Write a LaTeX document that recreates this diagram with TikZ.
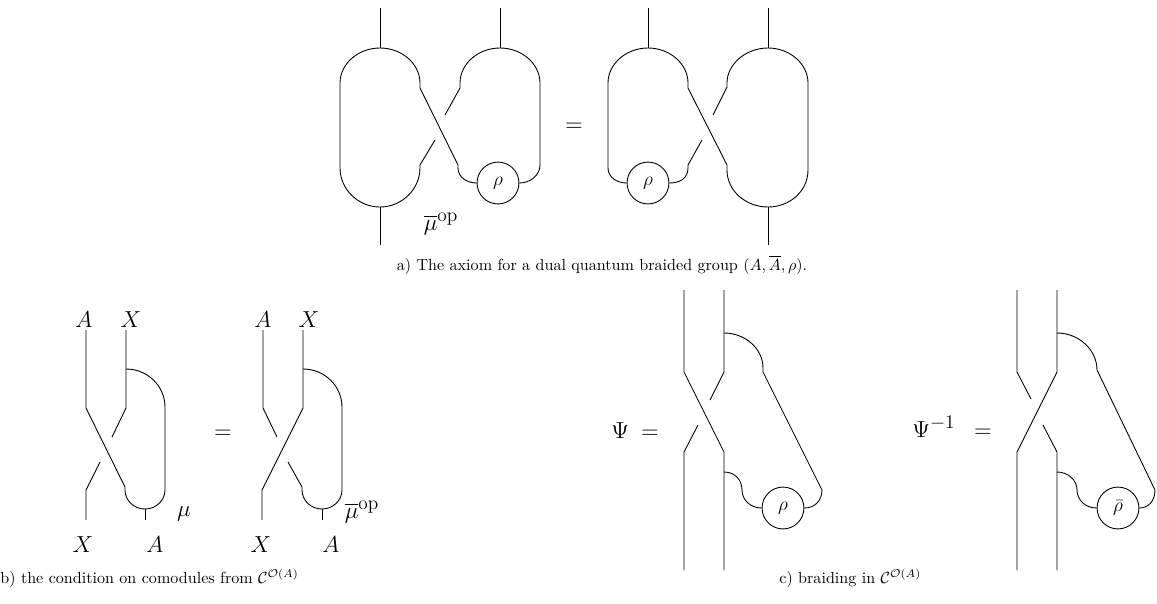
\documentclass[tikz,border=0pt]{standalone}
\usepackage{amsmath}
\begin{document}
\begin{tikzpicture}[x=0.621pt,y=-0.621pt,line width=0.55pt,
  coup/.style={draw,circle,minimum size=26pt,inner sep=0pt,font=\large},
  lab/.style={font=\Large,inner sep=0pt},
  captext/.style={font=\normalsize,inner sep=0pt}]
\useasboundingbox (0,0) rectangle (1157,603);
\newcommand\bigsup[1]{\text{\large$#1$}}

% ---------- a) left side ----------
\node[coup] (r1) at (498,183) {$\rho$};
\draw (380,8) -- (380,48);
\draw (380,207) -- (380,245);
\draw (420,88) -- (420,83) .. controls +(0,-19) and +(22,0) .. (380,48)
      .. controls +(-22,0) and +(0,-19) .. (340,83) -- (340,168)
      .. controls +(0,21) and +(-22,0) .. (380,207)
      .. controls +(22,0) and +(0,21) .. (420,168) -- (420,165) -- (435,140);
\draw (445,115) -- (460,88) -- (460,83) .. controls +(0,-19) and +(-22,0) .. (500,48)
      .. controls +(22,0) and +(0,-19) .. (540,83) -- (540,165)
      .. controls +(0,10) and +(11,0) .. (r1.east);
\draw (500,8) -- (500,48);
\draw (420,88) -- (458,165) -- (458,168) .. controls +(0,9) and +(-10,0) .. (r1.west);
\node[lab] (mua) at (441,224) {$\overline{\mu}^{\bigsup{\mathrm{op}}}$};
\node[lab] (eqa) at (574,127) {$=$};

% ---------- a) right side ----------
\node[coup] (r2) at (648,183) {$\rho$};
\draw (648,8) -- (648,48);
\draw (688,88) -- (688,83) .. controls +(0,-19) and +(22,0) .. (648,48)
      .. controls +(-22,0) and +(0,-19) .. (608,83) -- (608,168)
      .. controls +(0,9) and +(-10,0) .. (r2.west);
\draw (r2.east) .. controls +(11,0) and +(0,10) .. (688,168) -- (688,165) -- (702,140);
\draw (688,88) -- (727,165) -- (727,170) .. controls +(0,21) and +(-22,0) .. (768,207)
      .. controls +(22,0) and +(0,21) .. (808,170) -- (808,83)
      .. controls +(0,-19) and +(22,0) .. (768,48)
      .. controls +(-22,0) and +(0,-19) .. (727,83) -- (727,87) -- (713,115);
\draw (768,8) -- (768,48);
\draw (768,207) -- (768,245);

\node[captext,anchor=base] (capa) at (602,270) {a) The axiom for a dual quantum braided group $(A,\overline{A},\rho)$.};

% ---------- b) left ----------
\draw (86,330) -- (86,408) -- (125,487) -- (125,490)
      .. controls +(0,10.5) and +(-11,0) .. (145,509)
      .. controls +(11,0) and +(0,10.5) .. (165,490) -- (165,407)
      .. controls +(0,-21) and +(21.5,0) .. (126,369);
\draw (126,330) -- (126,408) -- (112,437);
\draw (100,462) -- (86,490) -- (86,520);
\draw (145,509) -- (145,520);
\node[lab,anchor=base] (bA1) at (84,327) {$A$};
\node[lab,anchor=base] (bX1) at (131,327) {$X$};
\node[lab,anchor=base] (bX2) at (83,552) {$X$};
\node[lab,anchor=base] (bA2) at (155,552) {$A$};
\node[lab] (mub) at (184,514) {$\mu$};
\node[lab] (eqb) at (223,434) {$=$};

% ---------- b) right ----------
\draw (263,330) -- (263,408) -- (277,437);
\draw (288,462) -- (302,487) -- (302,490)
      .. controls +(0,10.5) and +(-11,0) .. (322,509)
      .. controls +(11,0) and +(0,10.5) .. (342,490) -- (342,407)
      .. controls +(0,-21) and +(21.5,0) .. (303,369);
\draw (303,330) -- (303,408) -- (262,490) -- (262,520);
\draw (322,509) -- (322,520);
\node[lab,anchor=base] (bA3) at (263,327) {$A$};
\node[lab,anchor=base] (bX3) at (309,327) {$X$};
\node[lab,anchor=base] (bX4) at (261,552) {$X$};
\node[lab,anchor=base] (bA4) at (331,552) {$A$};
\node[lab] (muopb) at (362,512) {$\overline{\mu}^{\bigsup{\mathrm{op}}}$};

\node[captext,anchor=base west] (capb) at (0,583) {b) the condition on comodules from $\mathcal{C}^{\mathcal{O}(A)}$};

% ---------- c) Psi ----------
\node[coup] (r3) at (783,508) {$\rho$};
\draw (684,290) -- (684,372) -- (724,452) -- (724,570);
\draw (724,290) -- (724,372) -- (710,400);
\draw (698,425) -- (684,452) -- (684,570);
\draw (724,333) .. controls +(21.5,0) and +(0,-19) .. (763,368) -- (763,372) -- (822,490)
      .. controls +(0,11) and +(10,0) .. (r3.east);
\draw (724,472) .. controls +(11,0) and +(0,-10) .. (742,490)
      .. controls +(0,10) and +(-11,0) .. (r3.west);
\node[lab,anchor=base west] (psi) at (611,438) {$\Psi$};
\node[lab,anchor=base] (eqc1) at (650,438) {$=$};

% ---------- c) Psi^{-1} ----------
\node[coup] (r4) at (1118,508) {$\bar\rho$};
\draw (1017,290) -- (1017,372) -- (1031,399);
\draw (1057,290) -- (1057,372) -- (1017,452) -- (1017,570);
\draw (1043,425) -- (1057,452) -- (1057,570);
\draw (1057,333) .. controls +(22,0) and +(0,-20) .. (1097,370) -- (1155,490)
      .. controls +(0,11) and +(9,0) .. (r4.east);
\draw (1057,472) .. controls +(11,0) and +(0,-10) .. (1077,490)
      .. controls +(0,10) and +(-11,0) .. (r4.west);
\node[lab,anchor=base west] (psii) at (912,437) {$\Psi^{\bigsup{-1}}$};
\node[lab,anchor=base] (eqc2) at (983,437) {$=$};

\node[captext,anchor=base west] (capc) at (779,583) {c) braiding in $\mathcal{C}^{\mathcal{O}(A)}$};
\end{tikzpicture}
\end{document}
